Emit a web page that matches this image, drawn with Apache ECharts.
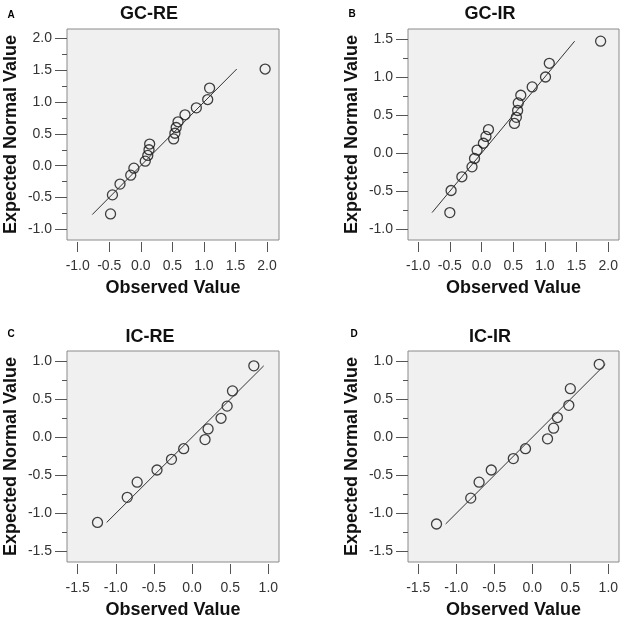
<!DOCTYPE html>
<html>
<head>
<meta charset="utf-8">
<title>Normal Q-Q plots</title>
<script src="https://cdn.jsdelivr.net/npm/echarts@6/dist/echarts.min.js"></script>
<style>
html, body { margin: 0; padding: 0; background: #fff; }
#chart { width: 625px; height: 625px; }
</style>
</head>
<body>
<div id="chart"></div>
<script>
// 观测值 (x) 与 期望正态值 (y), 每个面板一组
var obsGCRE = [-0.48, -0.45, -0.33, -0.16, -0.11, 0.07, 0.11, 0.13, 0.14, 0.52, 0.54, 0.56, 0.59, 0.70, 0.88, 1.06, 1.09, 1.97];
var expGCRE = [-0.76, -0.46, -0.29, -0.15, -0.04, 0.07, 0.16, 0.25, 0.34, 0.42, 0.51, 0.60, 0.69, 0.80, 0.91, 1.04, 1.22, 1.52];
var lineGCRE = [-0.77, 1.52];

var obsGCIR = [-0.50, -0.48, -0.31, -0.15, -0.11, -0.07, 0.03, 0.07, 0.11, 0.52, 0.55, 0.57, 0.58, 0.62, 0.80, 1.01, 1.07, 1.88];
var expGCIR = [-0.78, -0.49, -0.31, -0.18, -0.07, 0.04, 0.13, 0.22, 0.31, 0.39, 0.47, 0.56, 0.66, 0.76, 0.87, 1.00, 1.18, 1.47];
var lineGCIR = [-0.78, 1.47];

var obsICRE = [-1.24, -0.85, -0.72, -0.46, -0.27, -0.11, 0.17, 0.21, 0.38, 0.46, 0.53, 0.81];
var expICRE = [-1.12, -0.79, -0.59, -0.43, -0.29, -0.15, -0.03, 0.11, 0.25, 0.41, 0.61, 0.94];
var lineICRE = [-1.12, 0.94];

var obsICIR = [-1.26, -0.81, -0.70, -0.54, -0.25, -0.09, 0.20, 0.28, 0.33, 0.48, 0.50, 0.88];
var expICIR = [-1.14, -0.80, -0.59, -0.43, -0.28, -0.15, -0.02, 0.12, 0.26, 0.42, 0.64, 0.96];
var lineICIR = [-1.14, 0.96];

// 刻度
var xTicksGC = [-1.0, -0.5, 0.0, 0.5, 1.0, 1.5, 2.0];
var xTicksIC = [-1.5, -1.0, -0.5, 0.0, 0.5, 1.0];
var yTicksGCRE = [-1.0, -0.5, 0.0, 0.5, 1.0, 1.5, 2.0];
var yMinorGCRE = [-0.75, -0.25, 0.25, 0.75, 1.25, 1.75];
var yTicksGCIR = [-1.0, -0.5, 0.0, 0.5, 1.0, 1.5];
var yMinorGCIR = [-0.75, -0.25, 0.25, 0.75, 1.25];
var yTicksIC = [-1.5, -1.0, -0.5, 0.0, 0.5, 1.0];
var yMinorIC = [-1.25, -0.75, -0.25, 0.25, 0.75];

var FONT = '"Liberation Sans", Arial, sans-serif';

var panels = [
    { letter: 'A', title: 'GC-RE', obs: obsGCRE, exp: expGCRE, line: lineGCRE,
      xTicks: xTicksGC, yTicks: yTicksGCRE, yMinor: yMinorGCRE,
      xMin: -1.17, xMax: 2.19, yMin: -1.17, yMax: 2.15,
      left: 67, top: 29, w: 212, h: 211, titleX: 149, titleY: 14, letterX: 11, letterY: 15 },
    { letter: 'B', title: 'GC-IR', obs: obsGCIR, exp: expGCIR, line: lineGCIR,
      xTicks: xTicksGC, yTicks: yTicksGCIR, yMinor: yMinorGCIR,
      xMin: -1.16, xMax: 2.17, yMin: -1.14, yMax: 1.63,
      left: 408, top: 29, w: 211, h: 211, titleX: 490, titleY: 14, letterX: 352, letterY: 14 },
    { letter: 'C', title: 'IC-RE', obs: obsICRE, exp: expICRE, line: lineICRE,
      xTicks: xTicksIC, yTicks: yTicksIC, yMinor: yMinorIC,
      xMin: -1.64, xMax: 1.14, yMin: -1.64, yMax: 1.135,
      left: 67, top: 351, w: 212, h: 211, titleX: 150, titleY: 337, letterX: 11, letterY: 334 },
    { letter: 'D', title: 'IC-IR', obs: obsICIR, exp: expICIR, line: lineICIR,
      xTicks: xTicksIC, yTicks: yTicksIC, yMinor: yMinorIC,
      xMin: -1.635, xMax: 1.14, yMin: -1.64, yMax: 1.135,
      left: 408, top: 351, w: 211, h: 211, titleX: 490, titleY: 337, letterX: 354, letterY: 334 }
];

var chart = echarts.init(document.getElementById('chart'));

var grids = [], xAxes = [], yAxes = [], series = [], texts = [];

panels.forEach(function (p, i) {
    grids.push({
        left: p.left, top: p.top, width: p.w, height: p.h,
        show: true, backgroundColor: '#f0f0f0', borderColor: '#8a8a8a', borderWidth: 1
    });

    // x 轴 (刻度与边框有一点间隙)
    xAxes.push({
        type: 'value', gridIndex: i, position: 'bottom', min: p.xMin, max: p.xMax, offset: 2,
        name: 'Observed Value', nameLocation: 'middle', nameGap: 37,
        nameTextStyle: { fontFamily: FONT, fontWeight: 'bold', fontSize: 18, color: '#111' },
        axisLine: { show: false, onZero: false },
        axisTick: { show: true, length: 10, customValues: p.xTicks, lineStyle: { color: '#555' } },
        axisLabel: { customValues: p.xTicks, margin: 17, fontFamily: FONT, fontSize: 14, color: '#333',
            formatter: function (v) { return v.toFixed(1); } },
        splitLine: { show: false }
    });

    // y 轴: 主刻度 + 标签
    yAxes.push({
        type: 'value', gridIndex: i, position: 'left', min: p.yMin, max: p.yMax,
        name: 'Expected Normal Value', nameLocation: 'middle', nameGap: 47,
        nameTextStyle: { fontFamily: FONT, fontWeight: 'bold', fontSize: 18, color: '#111' },
        axisLine: { show: false, onZero: false },
        axisTick: { show: true, length: 12, customValues: p.yTicks, lineStyle: { color: '#555' } },
        axisLabel: { customValues: p.yTicks, margin: 15, fontFamily: FONT, fontSize: 14, color: '#333',
            formatter: function (v) { return v.toFixed(1); } },
        splitLine: { show: false }
    });
    // y 轴: 次刻度
    yAxes.push({
        type: 'value', gridIndex: i, position: 'left', min: p.yMin, max: p.yMax,
        axisLine: { show: false, onZero: false },
        axisTick: { show: true, length: 5, customValues: p.yMinor, lineStyle: { color: '#555' } },
        axisLabel: { show: false },
        splitLine: { show: false }
    });

    series.push({
        type: 'scatter', xAxisIndex: i, yAxisIndex: i * 2,
        symbol: 'circle', symbolSize: 10,
        itemStyle: { color: 'rgba(0,0,0,0)', borderColor: '#111', borderWidth: 1.3 },
        data: p.obs.map(function (x, k) { return [x, p.exp[k]]; })
    });
    series.push({
        type: 'line', xAxisIndex: i, yAxisIndex: i * 2,
        showSymbol: false, silent: true,
        lineStyle: { color: '#333', width: 1 },
        data: p.line.map(function (v) { return [v, v]; })
    });

    texts.push({
        type: 'text', x: p.titleX, y: p.titleY,
        style: { text: p.title, font: 'bold 18px ' + FONT, fill: '#111',
            textAlign: 'center', textVerticalAlign: 'middle', align: 'center', verticalAlign: 'middle' }
    });
    texts.push({
        type: 'text', x: p.letterX, y: p.letterY,
        style: { text: p.letter, font: 'bold 10px ' + FONT, fill: '#000',
            textAlign: 'center', textVerticalAlign: 'middle', align: 'center', verticalAlign: 'middle' }
    });
});

chart.setOption({
    animation: false,
    backgroundColor: '#fff',
    grid: grids,
    xAxis: xAxes,
    yAxis: yAxes,
    series: series,
    graphic: texts
});
</script>
</body>
</html>
